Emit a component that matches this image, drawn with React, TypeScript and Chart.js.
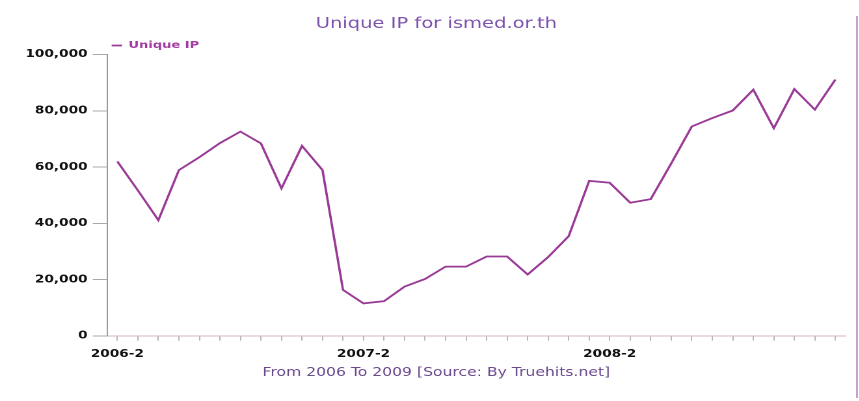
import React, { useEffect, useRef } from "react";
import { Chart, registerables } from "chart.js";

Chart.register(...registerables);

const months: string[] = [
  "2006-2", "2006-3", "2006-4", "2006-5", "2006-6", "2006-7", "2006-8", "2006-9", "2006-10", "2006-11", "2006-12",
  "2007-1", "2007-2", "2007-3", "2007-4", "2007-5", "2007-6", "2007-7", "2007-8", "2007-9", "2007-10", "2007-11", "2007-12",
  "2008-1", "2008-2", "2008-3", "2008-4", "2008-5", "2008-6", "2008-7", "2008-8", "2008-9", "2008-10", "2008-11", "2008-12",
  "2009-1",
];

const uniqueIP: number[] = [
  62000, 51700, 41100, 58900, 63500, 68500, 72600, 68400, 52400, 67500, 58900,
  16300, 11500, 12300, 17500, 20200, 24600, 24600, 28200, 28200, 21800, 28000, 35400,
  55100, 54400, 47300, 48600, 61300, 74400, 77400, 80100, 87500, 73800, 87700, 80400,
  91100,
];

const seriesName = "Unique IP";
const titleText = "Unique IP for ismed.or.th";
const subtitleText = "From 2006 To 2009 [Source: By Truehits.net]";
const yTicksMin = 0;
const yTicksMax = 100000;
const yTicksStep = 20000;
const xLabelEvery = 12;

const SX = 1.3; // horizontal stretch of the original picture
const FONT = "DejaVu Sans";
const PAD_SIDE = 20.8;

export default function App() {
  const ref = useRef<HTMLCanvasElement | null>(null);

  useEffect(() => {
    if (!ref.current) return;
    const chart = new Chart(ref.current, {
      type: "line",
      data: {
        labels: months,
        datasets: [
          {
            label: seriesName,
            data: uniqueIP,
            borderColor: "#993a96",
            backgroundColor: "#993a96",
            borderWidth: 1.8,
            pointRadius: 0,
            tension: 0,
            fill: false,
          },
        ],
      },
      options: {
        animation: false,
        responsive: true,
        maintainAspectRatio: false,
        devicePixelRatio: 2,
        layout: { padding: { top: 0, right: PAD_SIDE, bottom: 10, left: PAD_SIDE } },
        plugins: {
          title: {
            display: true,
            text: titleText,
            color: "#7c52ac",
            font: { family: FONT, size: 15, weight: "normal" },
            padding: { top: 15, bottom: 4 },
          },
          subtitle: {
            display: true,
            position: "bottom",
            text: subtitleText,
            color: "#6b4a8e",
            font: { family: FONT, size: 12, weight: "normal" },
            padding: { top: -1.5, bottom: 10.7 },
          },
          legend: {
            display: true,
            position: "top",
            align: "start",
            fullSize: false,
            maxHeight: 17.5,
            labels: {
              usePointStyle: true,
              pointStyle: "line",
              pointStyleWidth: 8,
              boxHeight: 8,
              padding: 3.5,
              color: "#a03ca0",
              font: { family: FONT, size: 10, weight: "bold" },
            },
          },
          tooltip: { enabled: false },
        },
        scales: {
          x: {
            type: "category",
            offset: true,
            grid: {
              offset: false,
              drawOnChartArea: false,
              drawTicks: true,
              tickLength: 5,
              color: "#b8b8b8",
            },
            border: { display: true, color: "#d4b4c4", width: 1 },
            ticks: {
              autoSkip: false,
              maxRotation: 0,
              minRotation: 0,
              padding: 7,
              color: "#111",
              font: { family: FONT, size: 10.5, weight: "bold" },
              callback: (_v: any, i: number) => (i % xLabelEvery === 0 ? months[i] : ""),
            },
          },
          y: {
            min: yTicksMin,
            max: yTicksMax,
            afterFit: (scale: any) => {
              scale.width = 107 / SX - PAD_SIDE;
            },
            grid: {
              drawOnChartArea: false,
              drawTicks: true,
              tickLength: 11,
              color: "#aaaaaa",
            },
            border: { display: true, color: "#999999", width: 1 },
            ticks: {
              stepSize: yTicksStep,
              padding: 4,
              color: "#111",
              font: { family: FONT, size: 10.5, weight: "bold" },
              callback: (v: any) => Number(v).toLocaleString("en-US"),
            },
          },
        },
      },
    });
    return () => chart.destroy();
  }, []);

  return (
    <div
      style={{
        position: "absolute",
        left: 0,
        top: 0,
        width: 859,
        height: 401,
        overflow: "hidden",
        background: "#ffffff",
      }}
    >
      <div
        style={{
          position: "absolute",
          left: 0,
          top: 0,
          width: 872 / SX,
          height: 401,
          transform: `scaleX(${SX})`,
          transformOrigin: "0 0",
        }}
      >
        <canvas ref={ref} />
      </div>
      <div
        style={{
          position: "absolute",
          left: 856,
          top: 16,
          width: 2,
          height: 382,
          background: "#c4a2d4",
        }}
      />
    </div>
  );
}
